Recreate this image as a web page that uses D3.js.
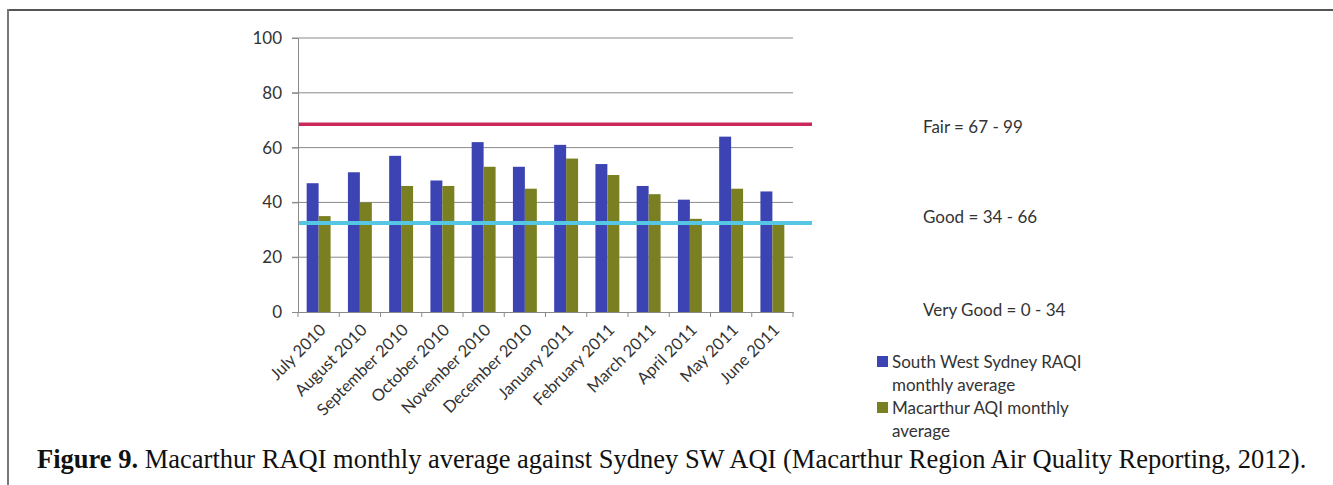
<!DOCTYPE html>
<html>
<head>
<meta charset="utf-8">
<script src="https://cdn.jsdelivr.net/npm/d3@7"></script>
<style>
html,body{margin:0;padding:0;background:#fff;}
svg{display:block;}
</style>
</head>
<body>
<svg id="chart" width="1333" height="485"></svg>
<script>
const categories = ["July 2010","August 2010","September 2010","October 2010","November 2010","December 2010","January 2011","February 2011","March 2011","April 2011","May 2011","June 2011"];
const swSydney = [47,51,57,48,62,53,61,54,46,41,64,44];
const macarthur = [35,40,46,46,53,45,56,50,43,34,45,32];
const seriesNames = ["South West Sydney RAQI monthly average","Macarthur AQI monthly average"];
const yTicks = [0,20,40,60,80,100];
const fairLine = 68.5;
const goodLine = 32.5;
const bandLabels = ["Fair = 67 - 99","Good = 34 - 66","Very Good = 0 - 34"];
const caption = ["Figure 9.", " Macarthur RAQI monthly average against Sydney SW AQI (Macarthur Region Air Quality Reporting, 2012)."];

const svg = d3.select("#chart");
const font = "Lato, 'Open Sans', sans-serif";

// frame
svg.append("line").attr("x1",7).attr("x2",1333).attr("y1",10).attr("y2",10).attr("stroke","#555").attr("stroke-width",2);
svg.append("line").attr("x1",8).attr("x2",8).attr("y1",9).attr("y2",485).attr("stroke","#777").attr("stroke-width",2);

const x0 = d3.scaleBand().domain(categories).range([298,793]).paddingInner(0).paddingOuter(0);
const y = d3.scaleLinear().domain([0,100]).range([312,38]);
const inner = d3.scaleBand().domain([0,1]).range([x0.bandwidth()*0.21, x0.bandwidth()*0.79]).padding(0);

// gridlines
svg.append("g").selectAll("line").data(yTicks.filter(d=>d>0)).join("line")
  .attr("x1",292).attr("x2",793).attr("y1",d=>y(d)).attr("y2",d=>y(d))
  .attr("stroke","#8a8a8a").attr("stroke-width",1);

// y axis
const yAxis = d3.axisLeft(y).tickValues(yTicks).tickSize(6).tickPadding(10);
const gy = svg.append("g").attr("transform","translate(298,0)").call(yAxis);
gy.select(".domain").attr("stroke","#8a8a8a");
gy.selectAll(".tick line").attr("stroke","#8a8a8a");
gy.selectAll("text").attr("font-family",font).attr("font-size",17).attr("fill","#333");

// bars
const colors = ["#3c44b4","#7a7f22"];
const data = categories.map((c,i)=>({c, v:[swSydney[i], macarthur[i]]}));
const groups = svg.append("g").selectAll("g").data(data).join("g")
  .attr("transform",d=>`translate(${x0(d.c)},0)`);
groups.selectAll("rect").data(d=>d.v.map((v,k)=>({v,k}))).join("rect")
  .attr("x",d=>inner(d.k)).attr("width",inner.bandwidth())
  .attr("y",d=>y(d.v)).attr("height",d=>y(0)-y(d.v))
  .attr("fill",d=>colors[d.k]);

// x axis
const xAxis = d3.axisBottom(x0).tickSize(0).tickPadding(8);
const gx = svg.append("g").attr("transform","translate(0,312)").call(xAxis);
gx.select(".domain").attr("stroke","#8a8a8a");
gx.append("g").selectAll("line").data(d3.range(categories.length+1)).join("line")
  .attr("x1",i=>298+i*x0.step()).attr("x2",i=>298+i*x0.step()).attr("y1",0).attr("y2",5)
  .attr("stroke","#8a8a8a");
gx.selectAll(".tick text").attr("font-family",font).attr("font-size",16.5).attr("fill","#333")
  .attr("text-anchor","end").attr("dy","0.35em")
  .attr("transform","translate(4,15) rotate(-45)")
  .attr("y",0).attr("x",0);

// threshold lines
svg.append("line").attr("x1",299).attr("x2",812).attr("y1",y(fairLine)).attr("y2",y(fairLine))
  .attr("stroke","#c8285a").attr("stroke-width",3.5);
svg.append("line").attr("x1",299).attr("x2",812).attr("y1",y(goodLine)).attr("y2",y(goodLine))
  .attr("stroke","#55c6e4").attr("stroke-width",4);

// band labels
const bandY = [127,217,310];
svg.append("g").selectAll("text").data(bandLabels).join("text")
  .attr("x",923).attr("y",(d,i)=>bandY[i]).attr("dy","0.35em")
  .attr("font-family",font).attr("font-size",17).attr("fill","#333").text(d=>d);

// legend
const legLines = [["South West Sydney RAQI","monthly average"],["Macarthur AQI monthly","average"]];
const lg = svg.append("g");
legLines.forEach((lines,i)=>{
  const yy = 362 + i*46;
  lg.append("rect").attr("x",877).attr("y",yy-6).attr("width",11).attr("height",11).attr("fill",colors[i]);
  lines.forEach((t,j)=>{
    lg.append("text").attr("x",892).attr("y",yy+j*23).attr("dy","0.35em")
      .attr("font-family",font).attr("font-size",17).attr("fill","#333").text(t);
  });
});

// caption
const cap = svg.append("text").attr("x",37).attr("y",459).attr("dy","0.35em")
  .attr("font-family","'Liberation Serif','Times New Roman',serif").attr("font-size",26.5).attr("fill","#111");
cap.append("tspan").attr("font-weight","bold").text(caption[0]);
cap.append("tspan").text(caption[1]);
</script>
</body>
</html>
